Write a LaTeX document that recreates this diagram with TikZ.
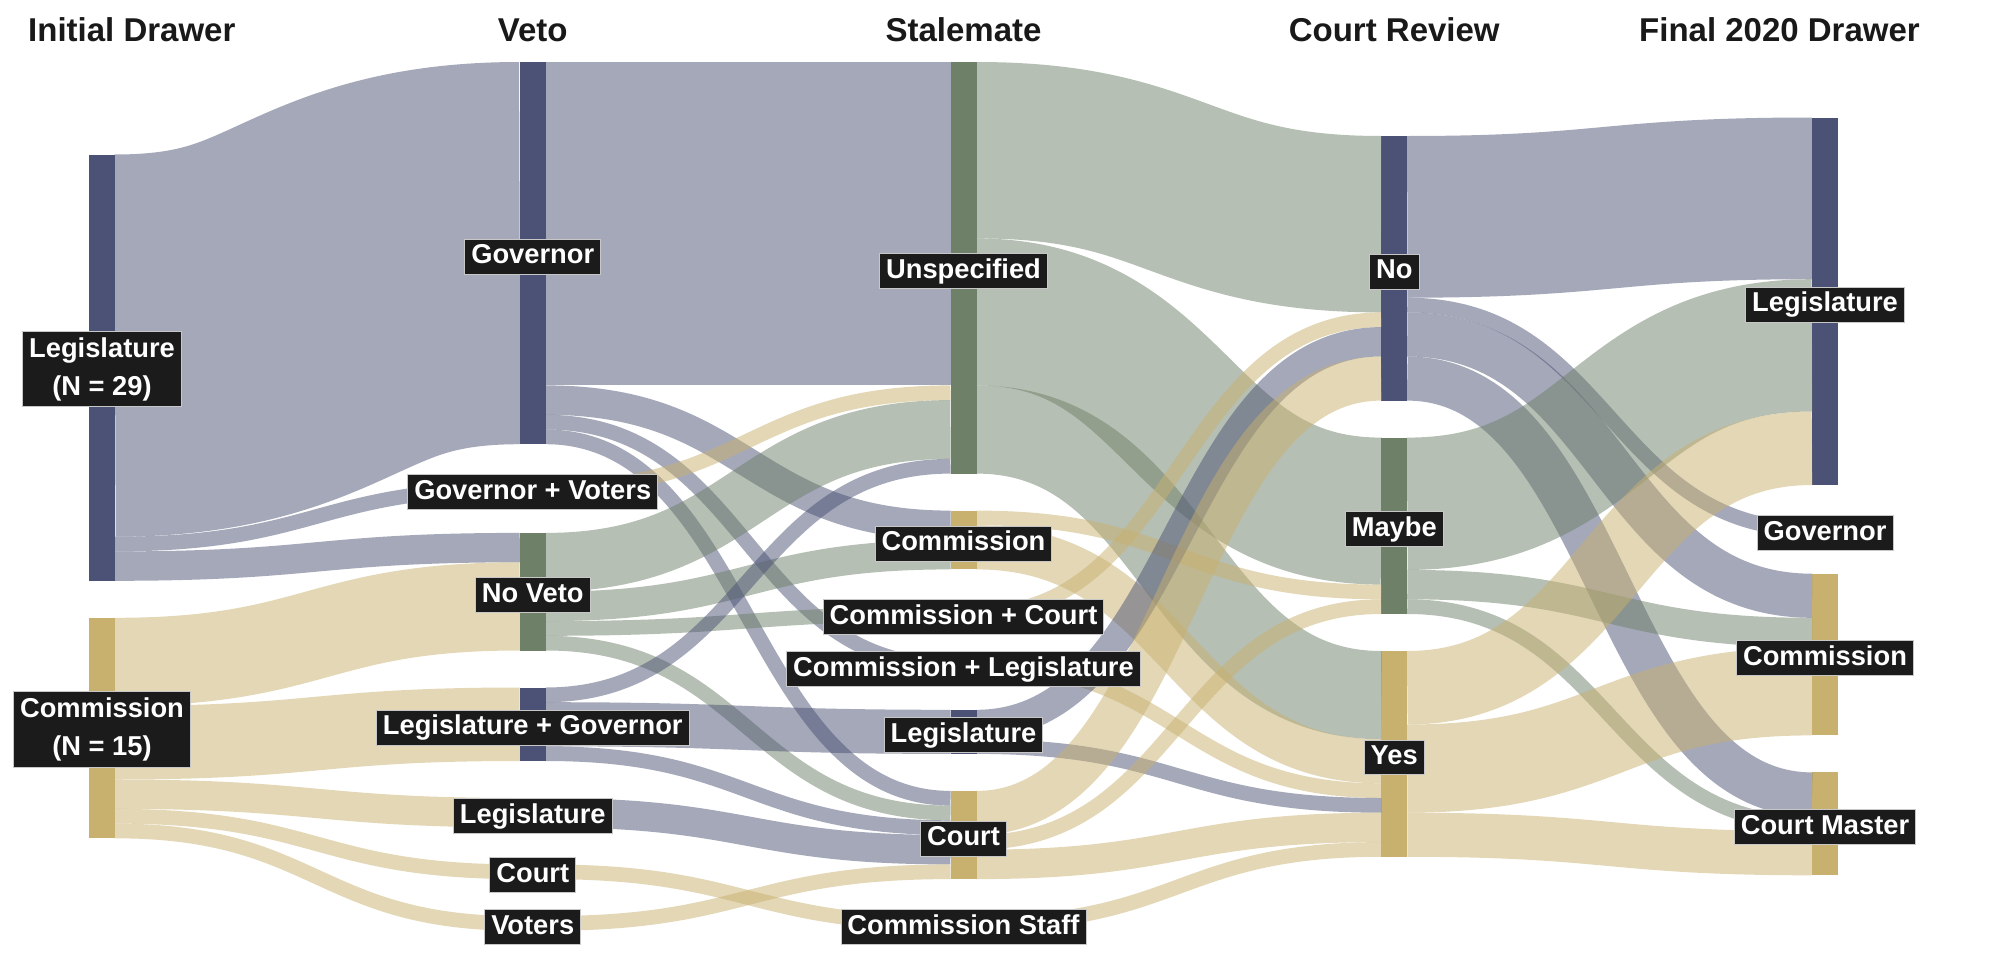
\documentclass[tikz,border=0pt]{standalone}
\usepackage{fontspec}
\setmainfont{Liberation Sans}
\definecolor{nblue}{HTML}{4B5275}
\definecolor{ngreen}{HTML}{6F8069}
\definecolor{ntan}{HTML}{C8B16F}
\definecolor{labbg}{HTML}{1B1B1B}
\def\U{14.7}
\newcommand\fl[6]{\draw[flowline,#1,line width={(#6)*\U pt}] ([yshift={-((#4)+(#6)/2)*\U pt}]#2.north east) .. controls +(202.375,0) and +(-202.375,0) .. ([yshift={-((#5)+(#6)/2)*\U pt}]#3.north west);}
\tikzset{
  bar/.style={draw=none, inner sep=0pt, outer sep=0pt, minimum width=26pt, anchor=north west},
  flowline/.style={draw opacity=0.5, line cap=butt},
  lab/.style={fill=labbg, draw=white!78!black, line width=0.9pt, text=white,
    font=\fontsize{27.3}{38}\selectfont\bfseries, inner xsep=6.5pt, inner ysep=4.6pt,
    text height=20pt, text depth=5.7pt, yshift=-3.5pt},
  labtwo/.style={fill=labbg, draw=white!78!black, line width=0.9pt, text=white,
    font=\fontsize{27.3}{38}\selectfont\bfseries, inner xsep=6.5pt, inner ysep=6pt, align=center, yshift=-1.5pt},
  ttl/.style={font=\fontsize{33}{40}\selectfont\bfseries, text=black!90, inner sep=0pt}
}
\begin{document}
\begin{tikzpicture}[x=1pt,y=-1pt]
\useasboundingbox[fill=white] (0,0) rectangle (2013,977);
% bars
\node[bar,fill=nblue,minimum height=426.3pt] (L1) at (89,154.5) {};
\node[bar,fill=ntan,minimum height=220.5pt] (C1) at (89,617.8) {};
\node[bar,fill=nblue,minimum height=382.2pt] (Gov2) at (519.75,62.0) {};
\node[bar,fill=ntan,minimum height=14.7pt] (GV2) at (519.75,481.2) {};
\node[bar,fill=ngreen,minimum height=117.6pt] (NV2) at (519.75,532.9) {};
\node[bar,fill=nblue,minimum height=73.5pt] (LG2) at (519.75,687.5) {};
\node[bar,fill=nblue,minimum height=29.4pt] (Leg2) at (519.75,798.0) {};
\node[bar,fill=ntan,minimum height=14.7pt] (Ct2) at (519.75,864.4) {};
\node[bar,fill=ntan,minimum height=14.7pt] (Vo2) at (519.75,916.1) {};
\node[bar,fill=ngreen,minimum height=411.6pt] (Un3) at (950.5,62.0) {};
\node[bar,fill=ntan,minimum height=58.8pt] (Cm3) at (950.5,510.6) {};
\node[bar,fill=ntan,minimum height=14.7pt] (CC3) at (950.5,606.4) {};
\node[bar,fill=ntan,minimum height=14.7pt] (CL3) at (950.5,658.1) {};
\node[bar,fill=nblue,minimum height=44.1pt] (Lg3) at (950.5,709.8) {};
\node[bar,fill=ntan,minimum height=88.2pt] (Ct3) at (950.5,790.9) {};
\node[bar,fill=ntan,minimum height=14.7pt] (CS3) at (950.5,916.1) {};
\node[bar,fill=nblue,minimum height=264.6pt] (No4) at (1381.25,136.0) {};
\node[bar,fill=ngreen,minimum height=176.4pt] (My4) at (1381.25,437.6) {};
\node[bar,fill=ntan,minimum height=205.8pt] (Ys4) at (1381.25,651.0) {};
\node[bar,fill=nblue,minimum height=367.5pt] (Lg5) at (1812,117.5) {};
\node[bar,fill=nblue,minimum height=14.7pt] (Gv5) at (1812,522.0) {};
\node[bar,fill=ntan,minimum height=161.7pt] (Cm5) at (1812,573.7) {};
\node[bar,fill=ntan,minimum height=102.9pt] (CM5) at (1812,772.4) {};
% flows: color, source, target, source offset, target offset, value
\fl{nblue}{L1}{Gov2}{0}{0}{26}
\fl{nblue}{L1}{GV2}{26}{0}{1}
\fl{nblue}{L1}{NV2}{27}{0}{2}
\fl{ntan}{C1}{NV2}{0}{2}{6}
\fl{ntan}{C1}{LG2}{6}{0}{5}
\fl{ntan}{C1}{Leg2}{11}{0}{2}
\fl{ntan}{C1}{Ct2}{13}{0}{1}
\fl{ntan}{C1}{Vo2}{14}{0}{1}
\fl{nblue}{Gov2}{Un3}{0}{0}{22}
\fl{nblue}{Gov2}{Cm3}{22}{0}{2}
\fl{nblue}{Gov2}{CL3}{24}{0}{1}
\fl{nblue}{Gov2}{Ct3}{25}{0}{1}
\fl{ntan}{GV2}{Un3}{0}{22}{1}
\fl{ngreen}{NV2}{Un3}{0}{23}{4}
\fl{ngreen}{NV2}{Cm3}{4}{2}{2}
\fl{ngreen}{NV2}{CC3}{6}{0}{1}
\fl{ngreen}{NV2}{Ct3}{7}{1}{1}
\fl{nblue}{LG2}{Un3}{0}{27}{1}
\fl{nblue}{LG2}{Lg3}{1}{0}{3}
\fl{nblue}{LG2}{Ct3}{4}{2}{1}
\fl{nblue}{Leg2}{Ct3}{0}{3}{2}
\fl{ntan}{Ct2}{CS3}{0}{0}{1}
\fl{ntan}{Vo2}{Ct3}{0}{5}{1}
\fl{ngreen}{Un3}{No4}{0}{0}{12}
\fl{ngreen}{Un3}{My4}{12}{0}{10}
\fl{ngreen}{Un3}{Ys4}{22}{0}{6}
\fl{ntan}{Cm3}{My4}{0}{10}{1}
\fl{ntan}{Cm3}{Ys4}{1}{6}{3}
\fl{ntan}{CC3}{No4}{0}{12}{1}
\fl{ntan}{CL3}{Ys4}{0}{9}{1}
\fl{nblue}{Lg3}{No4}{0}{13}{2}
\fl{nblue}{Lg3}{Ys4}{2}{10}{1}
\fl{ntan}{Ct3}{No4}{0}{15}{3}
\fl{ntan}{Ct3}{My4}{3}{11}{1}
\fl{ntan}{Ct3}{Ys4}{4}{11}{2}
\fl{ntan}{CS3}{Ys4}{0}{13}{1}
\fl{nblue}{No4}{Lg5}{0}{0}{11}
\fl{nblue}{No4}{Gv5}{11}{0}{1}
\fl{nblue}{No4}{Cm5}{12}{0}{3}
\fl{nblue}{No4}{CM5}{15}{0}{3}
\fl{ngreen}{My4}{Lg5}{0}{11}{9}
\fl{ngreen}{My4}{Cm5}{9}{3}{2}
\fl{ngreen}{My4}{CM5}{11}{3}{1}
\fl{ntan}{Ys4}{Lg5}{0}{20}{5}
\fl{ntan}{Ys4}{Cm5}{5}{5}{6}
\fl{ntan}{Ys4}{CM5}{11}{4}{3}
% labels
\node[labtwo] (L1t) at (L1.center) {Legislature\\(N = 29)};
\node[labtwo] (C1t) at (C1.center) {Commission\\(N = 15)};
\node[lab] (Gov2t) at (Gov2.center) {Governor};
\node[lab] (GV2t) at (GV2.center) {Governor + Voters};
\node[lab] (NV2t) at (NV2.center) {No Veto};
\node[lab] (LG2t) at (LG2.center) {Legislature + Governor};
\node[lab] (Leg2t) at (Leg2.center) {Legislature};
\node[lab] (Ct2t) at (Ct2.center) {Court};
\node[lab] (Vo2t) at (Vo2.center) {Voters};
\node[lab] (Un3t) at (Un3.center) {Unspecified};
\node[lab] (Cm3t) at (Cm3.center) {Commission};
\node[lab] (CC3t) at (CC3.center) {Commission + Court};
\node[lab] (CL3t) at (CL3.center) {Commission + Legislature};
\node[lab] (Lg3t) at (Lg3.center) {Legislature};
\node[lab] (Ct3t) at (Ct3.center) {Court};
\node[lab] (CS3t) at (CS3.center) {Commission Staff};
\node[lab] (No4t) at (No4.center) {No};
\node[lab] (My4t) at (My4.center) {Maybe};
\node[lab] (Ys4t) at (Ys4.center) {Yes};
\node[lab] (Lg5t) at (Lg5.center) {Legislature};
\node[lab] (Gv5t) at (Gv5.center) {Governor};
\node[lab] (Cm5t) at (Cm5.center) {Commission};
\node[lab] (CM5t) at (CM5.center) {Court Master};
% titles
\node[ttl,anchor=base west] (T1) at (28,41) {Initial Drawer};
\node[ttl,anchor=base] (T2) at (532.75,41) {Veto};
\node[ttl,anchor=base] (T3) at (963.5,41) {Stalemate};
\node[ttl,anchor=base] (T4) at (1394.25,41) {Court Review};
\node[ttl,anchor=base east] (T5) at (1920,41) {Final 2020 Drawer};
\end{tikzpicture}
\end{document}
